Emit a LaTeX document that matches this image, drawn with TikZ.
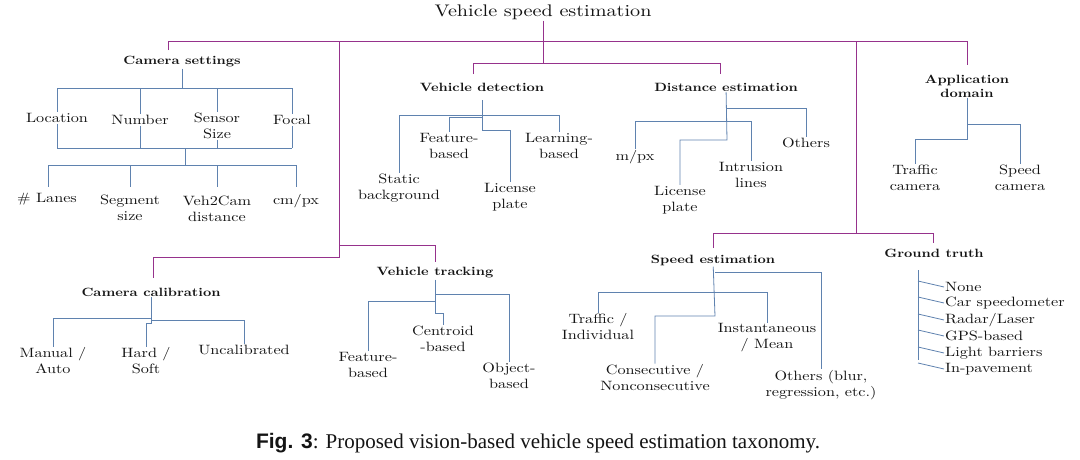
\documentclass[tikz,border=0pt]{standalone}
\usepackage{fontspec}
\setmainfont{lmroman10-regular.otf}[BoldFont=lmroman10-bold.otf,FakeStretch=1.2]
\newfontfamily\capserif{Liberation Serif}
\newfontfamily\capsans{Liberation Sans}
\definecolor{mag}{RGB}{150,50,140}
\definecolor{blu}{RGB}{95,130,175}
\definecolor{txt}{RGB}{20,20,20}
\tikzset{
  lab/.style={inner sep=1pt,align=center,text=txt,font=\fontsize{13.5}{16}\selectfont},
  head/.style={inner sep=1pt,align=center,text=txt,font=\fontsize{12}{16}\selectfont\bfseries},
  mline/.style={draw=mag,line width=0.8pt},
  bline/.style={draw=blu,line width=0.8pt},
}
\begin{document}
\begin{tikzpicture}[x=1pt,y=-1pt]
\useasboundingbox (0,0) rectangle (1080,459);
% title and headings
\node[inner sep=1pt,text=txt,font=\fontsize{16.8}{18}\selectfont] (t) at (543,12) {Vehicle speed estimation};
\node[head] (cs) at (182,62) {Camera settings};
\node[head] (vd) at (482,87) {Vehicle detection};
\node[head] (de) at (726,87) {Distance estimation};
\node[head] (ad) at (967,86) {Application\\[-2pt]domain};
\node[head] (cc) at (151,292) {Camera calibration};
\node[head] (vt) at (435,273) {Vehicle tracking};
\node[head] (se) at (713,260) {Speed estimation};
\node[head] (gt) at (934,253) {Ground truth};
% magenta tree
\draw[mline] (t) -- (543,41);
\draw[mline] (168,50) -- (168,41) -- (967,41) -- (967,65);
\draw[mline] (543,41) -- (543,63);
\draw[mline] (473,74) -- (473,63) -- (720,63) -- (720,74);
\draw[mline] (339,41) -- (339,257) -| (153,278);
\draw[mline] (339,245) -| (435,262);
\draw[mline] (856,41) -- (856,233);
\draw[mline] (713,248) -- (713,233) -- (933,233) -- (933,243);
% camera settings
\node[lab] (loc) at (57,118) {Location};
\node[lab] (num) at (140,120) {Number};
\node[lab] (ss) at (217,126) {Sensor\\Size};
\node[lab] (foc) at (292,120) {Focal};
\node[lab] (ln) at (47,199) {\# Lanes};
\node[lab] (seg) at (130,208) {Segment\\size};
\node[lab] (v2c) at (217,209) {Veh2Cam\\distance};
\node[lab] (cmpx) at (296,201) {cm/px};
\draw[bline] (cs) -- (182,88);
\draw[bline] (57,88) -- (292,88);
\foreach \n/\x in {loc/57,num/140,ss/217,foc/292}{\draw[bline] (\x,88) -- (\n);\draw[bline] (\n) -- (\x,148);}
\draw[bline] (57,148) -- (292,148);
\draw[bline] (185,148) -- (185,165);
\draw[bline] (48,165) -- (296,165);
\draw[bline] (48,165) -- (48,187);
\draw[bline] (130,165) -- (130,187);
\draw[bline] (217,165) -- (217,187);
\draw[bline] (296,165) -- (296,187);
% vehicle detection
\node[lab] (sb) at (399,188) {Static\\background};
\node[lab] (fb) at (449,146) {Feature-\\based};
\node[lab] (lp) at (510,197) {License\\plate};
\node[lab] (lb) at (559,146) {Learning-\\based};
\draw[bline] (482,100) -- (482,130) -| (lp);
\draw[bline] (482,115) -| (sb);
\draw[bline] (482,115) -| (lb);
\draw[bline] (482,117) -| (fb);
% distance estimation
\node[lab] (mpx) at (635,157) {m/px};
\node[lab] (lp2) at (680,200) {License\\plate};
\node[lab] (il) at (751,175) {Intrusion\\lines};
\node[lab] (oth) at (806,143) {Others};
\draw[bline] (de) -- (727,140) -| (lp2);
\draw[bline] (727,108) -| (oth);
\draw[bline] (635,121) -- (751,121);
\draw[bline] (635,121) -- (mpx);
\draw[bline] (751,121) -- (il);
% application domain
\node[lab] (tc) at (915,178) {Traffic\\camera};
\node[lab] (sc) at (1020,178) {Speed\\camera};
\draw[bline] (ad) -- (967,139) -| (tc);
\draw[bline] (967,124) -| (sc);
% camera calibration
\node[lab] (ma) at (53,361) {Manual /\\Auto};
\node[lab] (hs) at (146,361) {Hard /\\Soft};
\node[lab] (unc) at (244,350) {Uncalibrated};
\draw[bline] (cc) -- (151,323) -| (hs);
\draw[bline] (151,318) -| (ma);
\draw[bline] (151,320) -| (unc);
% vehicle tracking
\node[lab] (tfb) at (368,365) {Feature-\\based};
\node[lab] (cb) at (443,339) {Centroid\\-based};
\node[lab] (ob) at (509,376) {Object-\\based};
\draw[bline] (vt) -- (435,313) -| (cb);
\draw[bline] (435,294) -| (ob);
\draw[bline] (435,301) -| (tfb);
% speed estimation
\node[lab] (ti) at (598,327) {Traffic /\\Individual};
\node[lab] (im) at (767,338) {Instantaneous\\/ Mean};
\node[lab] (cn) at (655,378) {Consecutive /\\Nonconsecutive};
\node[lab] (ob2) at (821,385) {Others (blur,\\regression, etc.)};
\draw[bline] (se) -- (715,316) -| (cn);
\draw[bline] (715,272) -| (ob2);
\draw[bline] (598,292) -- (767,292);
\draw[bline] (598,292) -- (ti);
\draw[bline] (767,292) -- (im);
% ground truth
\draw[bline] (918,270) -- (918,360);
\foreach \y/\n/\t in {287/g1/{None},303/g2/{Car speedometer},320/g3/{Radar/Laser},336/g4/{GPS-based},353/g5/{Light barriers},369/g6/{In-pavement}}{
  \node[lab,anchor=west] (\n) at (944,\y) {\t};
  \draw[bline] (918,\y-6) -- (\n.west);
}
% caption
\node[inner sep=0pt,text=txt,font=\fontsize{21}{24}\selectfont] (cap) at (538,443) {{\capsans\bfseries Fig. 3}{\capserif: Proposed vision-based vehicle speed estimation taxonomy.}};
\end{tikzpicture}
\end{document}
